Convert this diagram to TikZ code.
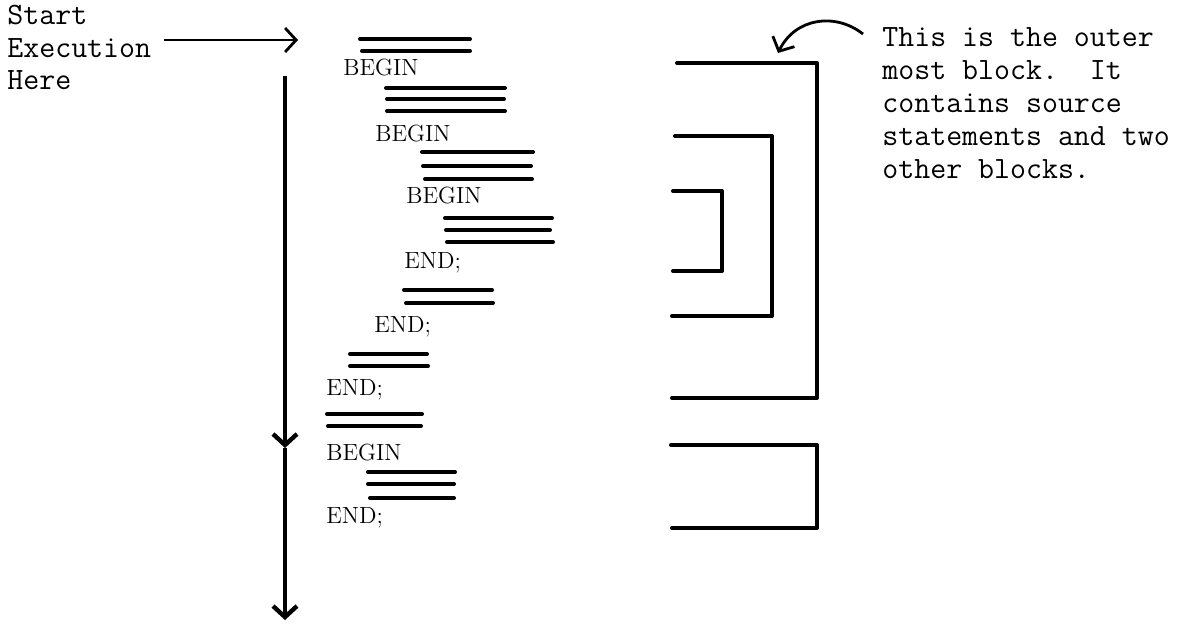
\documentclass[tikz,border=0pt]{standalone}
\usepackage{fontspec}
\usetikzlibrary{arrows.meta, positioning}

\begin{document}
\begin{tikzpicture}[x=0.5pt, y=-0.5pt,
        >={Straight Barb[length=5.5pt, width=12pt]},
        kw/.style={anchor=base west, inner sep=0pt, font=\fontsize{11.7pt}{14pt}\selectfont},
        note/.style={anchor=base west, inner sep=0pt, align=left, font=\ttfamily\fontsize{15.5pt}{16.4pt}\selectfont},
        stmt/.style={line width=2pt, line cap=round},
        blockline/.style={line width=2pt, line cap=round, line join=round},
        flow/.style={line width=2.2pt, ->}]
        \useasboundingbox (0,0) rectangle (1178,626);

        % notes (anchored at the last line)
        \node (startnote) [note] at (7,90) {Start\\Execution\\Here};
        \node (outernote) [note] at (882,178) {This is the outer\\most block.~~It\\contains source\\statements and two\\other blocks.};

        % source text
        \node (begA) [kw] at (343,76) {BEGIN};
        \node (begB) [kw] at (375,141) {BEGIN};
        \node (begC) [kw] at (406,204) {BEGIN};
        \node (endC) [kw] at (404,268) {END;};
        \node (endB) [kw] at (374,332) {END;};
        \node (endA) [kw] at (326,395) {END;};
        \node (begD) [kw] at (326,460) {BEGIN};
        \node (endD) [kw] at (326,523) {END;};

        % statements
        \foreach \xa/\xb/\ya in {360/470/39, 362/470/51,
                386/505/88, 387/504/99, 387/505/111,
                422/533/152, 423/531/166, 425/532/179,
                445/552/218, 446/550/230, 447/553/242,
                404/492/290, 406/493/303,
                350/427/354, 350/428/366,
                327/422/414, 328/421/426,
                368/455/472, 368/454/484, 370/454/498}
            \draw[stmt] (\xa,\ya) -- (\xb,\ya);

        % blocks
        \draw[blockline] (677,63) -- (817,63) -- (817,398) -- (672,398);
        \draw[blockline] (675,136) -- (772,136) -- (772,316) -- (672,316);
        \draw[blockline] (673,191) -- (722,191) -- (722,271) -- (673,271);
        \draw[blockline] (671,445) -- (817,445) -- (817,528) -- (672,528);

        % execution flow
        \coordinate (arrowstart) at (164,40);
        \coordinate (entry) at (298,40);
        \coordinate (flowtop) at (285,76);
        \coordinate (flowmid) at (285,448);
        \coordinate (flowend) at (285,620);
        \draw[line width=1.4pt, ->] (arrowstart) -- (entry);
        \draw[flow] (flowtop) -- (flowmid);
        \draw[flow] (flowmid) -- (flowend);

        % pointer to outer block
        \coordinate (curvestart) at (863,34);
        \coordinate (curveend) at (778,53);
        \draw[line width=1.4pt, ->] (curvestart) .. controls (835,12) and (795,18) .. (curveend);
    \end{tikzpicture}
\end{document}
